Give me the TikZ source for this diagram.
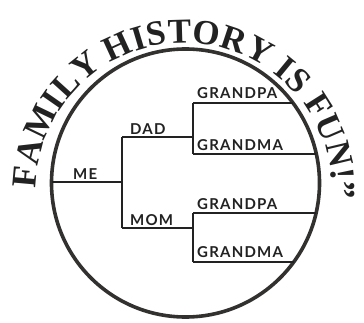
\documentclass[tikz,border=0pt]{standalone}
\usepackage{fontspec}
\setmainfont{Liberation Serif}
\newfontfamily\kinfont[LetterSpace=8]{Lato}
\newfontfamily\titlefont[Scale=3.5]{Liberation Serif Bold}
\usetikzlibrary{positioning,decorations.text}
\definecolor{Ink}{HTML}{222222}
\definecolor{Rim}{HTML}{333030}

\begin{document}
\begin{tikzpicture}[x=1pt, y=1pt,
    rim/.style={draw=Rim, line width=3.6pt},
    branch/.style={draw=Ink, line width=1.1pt},
    kin/.style={inner sep=0pt, text=Ink, font=\kinfont\bfseries\fontsize{15}{15}\selectfont}]
  \useasboundingbox (0,0) rectangle (364,322);
  \coordinate (c) at (185.5,139);

  % rim and curved title
  \draw[rim] (c) circle[radius=134];
  \path[decorate, decoration={text along path, text align={fit to path},
      text={|\titlefont\color{Ink}|FAMILY HISTORY IS FUN!”}}]
    (184,131) ++(179:148) arc[start angle=179, end angle=-3, radius=148];

  % tree joints
  \coordinate (me)   at (51.5,140);
  \coordinate (fork) at (122,140);
  \coordinate (dad)  at (122,185);
  \coordinate (mom)  at (122,94);
  \coordinate (dadR) at (193,185);
  \coordinate (momR) at (193,94);
  \coordinate (gp1)  at (193,219);
  \coordinate (gm1)  at (193,168);
  \coordinate (gp2)  at (193,109);
  \coordinate (gm2)  at (193,60);
  \coordinate (gp1R) at (293,219);
  \coordinate (gm1R) at (316.3,168);
  \coordinate (gp2R) at (316.1,109);
  \coordinate (gm2R) at (293.7,60);

  \draw[branch] (me) -- (fork);
  \draw[branch] (dad) -- (mom);
  \draw[branch] (dad) -- (dadR);
  \draw[branch] (mom) -- (momR);
  \draw[branch] (gp1) -- (gm1);
  \draw[branch] (gp2) -- (gm2);
  \draw[branch] (gp1) -- (gp1R);
  \draw[branch] (gm1) -- (gm1R);
  \draw[branch] (gp2) -- (gp2R);
  \draw[branch] (gm2) -- (gm2R);

  % labels
  \node[kin, above right=2pt and 21.5pt of me] (meT) {ME};
  \node[kin, above right=2pt and 8pt of dad] (dadT) {DAD};
  \node[kin, above right=2pt and 8pt of mom] (momT) {MOM};
  \node[kin, above right=4pt and 4pt of gp1] (gp1T) {GRANDPA};
  \node[kin, above right=3pt and 4pt of gm1] (gm1T) {GRANDMA};
  \node[kin, above right=3pt and 4pt of gp2] (gp2T) {GRANDPA};
  \node[kin, above right=4pt and 4pt of gm2] (gm2T) {GRANDMA};
\end{tikzpicture}
\end{document}
